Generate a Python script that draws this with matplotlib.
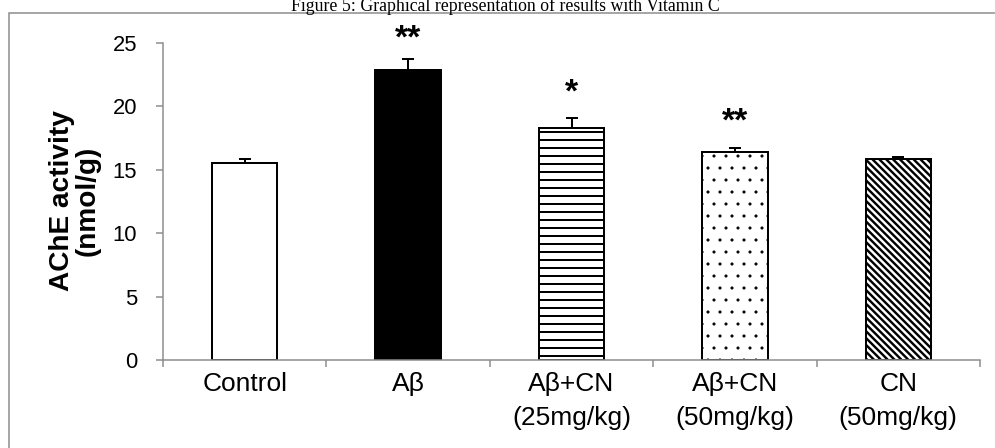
import matplotlib
matplotlib.use("Agg")
import matplotlib.pyplot as plt
from matplotlib.patches import Rectangle

# ---- data ----
categories = ["Control", "Aβ", "Aβ+CN\n(25mg/kg)", "Aβ+CN\n(50mg/kg)", "CN\n(50mg/kg)"]
means = [15.5, 22.85, 18.3, 16.4, 15.8]
sems = [0.37, 0.89, 0.74, 0.27, 0.2]
sig_labels = ["", "**", "*", "**", ""]
sig_y = [0, 24.65, 20.35, 18.05, 0]
yticks = [0, 5, 10, 15, 20, 25]
title = "Figure 5: Graphical representation of results with Vitamin C"
ylabel = "AChE activity\n(nmol/g)"

# ---- styles ----
faces = ["white", "black", "white", "white", "white"]
hatches = [None, None, "---", "..", "\\" * 7]
hatch_lw = [1.0, 1.0, 1.0, 0.3, 1.2]

W, H, DPI = 995, 448, 144
fig = plt.figure(figsize=(W / DPI, H / DPI), dpi=DPI)
plt.rcParams["font.family"] = ["Liberation Sans", "DejaVu Sans"]

ax_left, ax_right, ax_bottom, ax_top = 163, 980, 360, 42.7
ax = fig.add_axes([ax_left / W, 1 - ax_bottom / H, (ax_right - ax_left) / W, (ax_bottom - ax_top) / H])

grey = "#8c8c8c"
x = list(range(len(categories)))
for i in x:
    with plt.rc_context({"hatch.linewidth": hatch_lw[i], "hatch.color": "black"}):
        bars = ax.bar(i, means[i], width=0.4, color=faces[i], edgecolor="black",
                      linewidth=1.0, hatch=hatches[i], zorder=1)
    for b in bars:
        if hasattr(b, "set_hatch_linewidth"):
            b.set_hatch_linewidth(hatch_lw[i])

ax.errorbar(x, means, yerr=[[0] * len(means), sems], fmt="none", ecolor="black",
            elinewidth=1.0, capsize=3.2, capthick=1.0, zorder=3)

for i, (lab, yy) in enumerate(zip(sig_labels, sig_y)):
    if lab:
        ax.text(i, yy, lab, ha="center", va="baseline", fontsize=17, fontweight="bold",
                clip_on=False)

ax.set_xlim(-0.5, len(categories) - 0.5)
ax.set_ylim(0, 25)
ax.set_yticks(yticks)
ax.set_yticklabels([str(t) for t in yticks])

# boundary ticks (major) and category labels (minor)
ax.set_xticks([k - 0.5 for k in range(len(categories) + 1)])
ax.set_xticklabels([])
ax.set_xticks(x, minor=True)
ax.set_xticklabels(categories, minor=True, fontsize=13.2, linespacing=1.55)
ax.tick_params(axis="x", which="major", length=3.5, width=0.75, color=grey, direction="out")
ax.tick_params(axis="x", which="minor", length=0, pad=6)
ax.tick_params(axis="y", length=3.7, width=0.75, color=grey, direction="out",
               labelsize=11, pad=9.3)

for s in ["top", "right"]:
    ax.spines[s].set_visible(False)
for s in ["left", "bottom"]:
    ax.spines[s].set_color(grey)
    ax.spines[s].set_linewidth(0.75)
    ax.spines[s].set_zorder(2.5)

fig.text(75 / W, 1 - 201 / H, ylabel, rotation=90, ha="center", va="center",
         multialignment="center", fontsize=14, fontweight="bold", linespacing=1.0)

fig.text(505 / W, 1 - 11 / H, title, ha="center", va="baseline", fontsize=8.9,
         family=["Liberation Serif", "DejaVu Serif"])

# outer frame of the figure region
fig.patches.append(Rectangle((9 / W, -0.1), 1.2, 1 - 13 / H + 0.1, transform=fig.transFigure,
                             fill=False, edgecolor="#8a8a8a", linewidth=0.75, figure=fig))

fig.savefig("out.png", dpi=DPI, facecolor="white")
